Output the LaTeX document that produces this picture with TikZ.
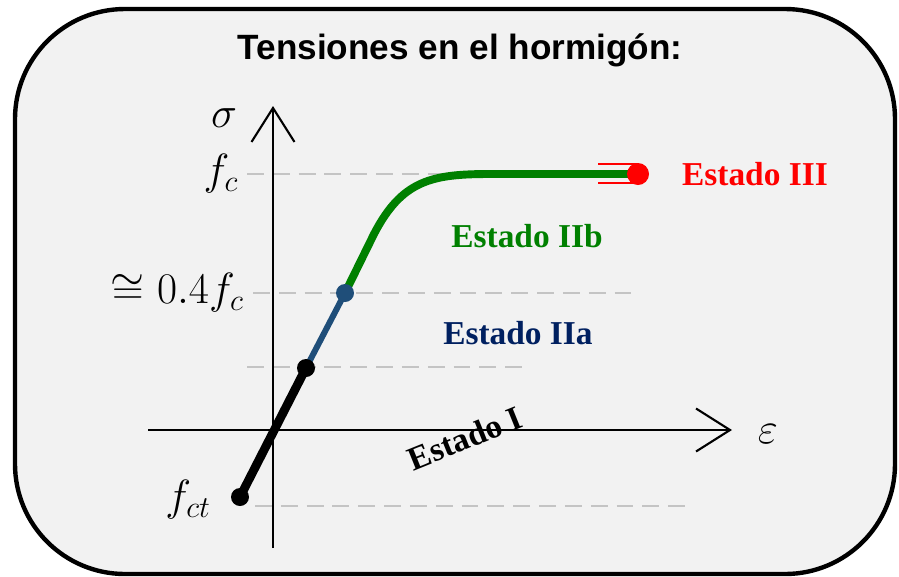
\documentclass[tikz,border=0pt]{standalone}
\usepackage{fontspec}
\setmainfont{Liberation Serif}
\newfontfamily\titlefont{Liberation Sans}
\usepackage{amsmath}
\usepackage{amssymb}
\usetikzlibrary{arrows, arrows.meta}

\definecolor{panelgray}{HTML}{F2F2F2}
\definecolor{dashgray}{HTML}{C4C4C4}
\definecolor{curvegreen}{HTML}{008000}
\definecolor{curveblue}{HTML}{1F4E79}
\definecolor{labelblue}{HTML}{002060}

\begin{document}
\begin{tikzpicture}[x=0.02cm, y=-0.02cm,
  axis/.style={line width=1.2pt, -{Straight Barb[length=0.68cm, width=0.86cm, line width=1.2pt]}},
  guide/.style={dashgray, line width=1.1pt, dash pattern=on 9.6pt off 5.1pt},
  estado/.style={font=\fontsize{19}{23}\selectfont\bfseries},
  mathlbl/.style={font=\fontsize{26}{31}\selectfont},
  biglbl/.style={font=\fontsize{34}{40}\selectfont},
  dot/.style={circle, inner sep=0pt, minimum size=#1}]
\useasboundingbox (0,0) rectangle (899,576);
\draw[line width=2.5pt, fill=panelgray, rounded corners=2.2cm] (15,9) rectangle (895,574); %frame
\node[font=\titlefont\fontsize{20}{24}\selectfont\bfseries] (title) at (460,50) {Tensiones en el hormig\'on:};
%\draw[step=50,gray,very thin] (0,0) grid (899,576); %background grid
% guide lines
\coordinate (gfc) at (247,174);
\coordinate (gfcend) at (625,174);
\coordinate (g04) at (253,293);
\coordinate (g04end) at (635,293);
\coordinate (gI) at (247,367);
\coordinate (gIend) at (527,367);
\coordinate (gct) at (255,506);
\coordinate (gctend) at (686,506);
\draw[guide] (gfc) -- (gfcend);
\draw[guide] (g04) -- (g04end);
\draw[guide] (gI) -- (gIend);
\draw[guide] (gct) -- (gctend);
% axes
\coordinate (ybot) at (273,548);
\coordinate (ytop) at (273,106);
\coordinate (xleft) at (148,430);
\coordinate (xright) at (732,430);
\draw[axis] (ybot) -- (ytop);
\draw[axis] (xleft) -- (xright);
\node[biglbl] (sigma) at (224,118) {$\sigma$};
\node[biglbl] (eps) at (768,434) {$\varepsilon$};
\node[mathlbl] (fc) at (221,174) {$f_c$};
\node[mathlbl, anchor=east] (f04) at (250,293) {$\cong 0.4f_c$};
\node[mathlbl] (fct) at (188,500) {$f_{ct}$};
% curve
\coordinate (cct) at (240,497);
\coordinate (cI) at (306,368);
\coordinate (cIIa) at (345,293);
\coordinate (cIII) at (638,174);
\coordinate (redtop) at (598,164);
\coordinate (redbot) at (598,183);
\draw[red, line width=1.2pt] (redtop) -- (redtop -| cIII); %speed lines
\draw[red, line width=1.2pt] (redbot) -- (redbot -| cIII);
\draw[curvegreen, line width=4.5pt] (cIIa) -- (374,234) .. controls (402,180) and (432,174) .. (490,174) -- (cIII);
\draw[curveblue, line width=3.4pt] (cI) -- (cIIa);
\draw[line width=5pt] (cct) -- (cI);
\node[dot=0.36cm, fill=black] (pct) at (cct) {};
\node[dot=0.36cm, fill=black] (pI) at (cI) {};
\node[dot=0.36cm, fill=curveblue] (pIIa) at (cIIa) {};
\node[dot=0.44cm, fill=red] (pIII) at (cIII) {};
% states
\node[estado, red] (eIII) at (755,174) {Estado III};
\node[estado, curvegreen] (eIIb) at (527,236) {Estado IIb};
\node[estado, labelblue] (eIIa) at (518,333) {Estado IIa};
\node[estado, rotate=22] (eI) at (465,438) {Estado I};
\end{tikzpicture}
\end{document}
